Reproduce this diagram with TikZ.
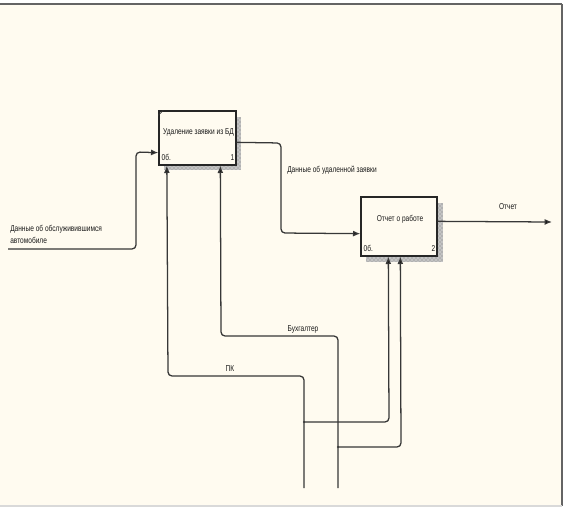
\documentclass[tikz,border=0pt]{standalone}
\usepackage{fontspec}
\setmainfont{Liberation Sans}
\newfontfamily\narrowfont[FakeStretch=0.77]{Liberation Sans}
\usetikzlibrary{arrows.meta,calc,patterns}
\definecolor{cream}{RGB}{255,251,240}
\definecolor{linegray}{RGB}{55,55,55}
\definecolor{framegray}{RGB}{100,100,100}
\tikzset{
  actbox/.style={draw=black!85, line width=1pt, fill=cream, inner sep=0pt},
  flow/.style={draw=linegray, line width=0.95pt, rounded corners=3pt},
  arr/.style={-{Latex[length=5.5pt,width=4.5pt,fill=black]}},
  lbl/.style={font=\narrowfont\fontsize{6.4}{9}\selectfont, text=black!90, inner sep=0pt},
  jdot/.style={circle, fill=linegray, inner sep=0pt, minimum size=1.6pt}
}
\begin{document}
\begin{tikzpicture}[x=0.75pt,y=-0.75pt]
\useasboundingbox (0,0) rectangle (565,508);
% background and frame
\fill[white] (0,0) rectangle (565,508);
\fill[cream] (0,4) rectangle (562,506);
\draw[framegray, line width=1.1pt] (0,4) -- (562,4);
\draw[framegray, line width=0.8pt] (562,4) -- (562,506);
\draw[black!15, line width=0.8pt] (0,506) -- (562,506);

% shadows
\foreach \r in {{(236,117) rectangle (241,170)}, {(164,165) rectangle (241,170)},
                {(437,203) rectangle (443,262)}, {(366,256) rectangle (443,262)}}{
  \fill[gray!60] \r;
  \fill[pattern=crosshatch dots, pattern color=white] \r;
}

% boxes
\node[actbox, minimum width=57.75pt, minimum height=40.5pt] (b1) at (197.5,138) {};
\node[actbox, minimum width=57pt, minimum height=44.25pt] (b2) at (399,226.5) {};
\draw[black!80, line width=0.6pt] ($(b1.north west)+(0,5)$) -- ($(b1.north west)+(5,0)$);

% box texts
\node[lbl] (t1) at (198.5,132) {Удаление заявки из БД};
\node[lbl] (t2) at (400,219) {Отчет о работе};
\node[lbl, anchor=base west] (c1) at ($(b1.south west)+(3,-5)$) {0б.};
\node[lbl, anchor=base east] (n1) at ($(b1.south east)+(-2,-5)$) {1};
\node[lbl, anchor=base west] (c2) at ($(b2.south west)+(3,-5)$) {0б.};
\node[lbl, anchor=base east] (n2) at ($(b2.south east)+(-2,-5)$) {2};

% free ends
\coordinate (in1) at (8,249);
\coordinate (out2) at (552,222);
\coordinate (m1) at (304,488);
\coordinate (m2) at (338,488);

% input
\draw[flow, arr] (in1) -- (136,249) -- (136,152) -- ($(b1.south west)+(0,-13)$);
\node[lbl, anchor=west, align=left] (l1) at (10,234) {Данные об обслуживившимся\\автомобиле};

% output 1 -> box 2
\draw[flow, arr] ($(b1.north east)+(0,32)$) -- (281,143) -- (281,233) -- ($(b2.south west)+(0,-23)$);
\node[lbl, anchor=west] (l2) at (287,170) {Данные об удаленной заявки};

% output 2
\draw[flow, arr] ($(b2.north east)+(0,25)$) -- (out2);
\node[lbl] (l3) at (508,207) {Отчет};

% mechanism PK
\draw[flow, arr] (m1) -- (304,376) -- (168,376) -- ($(b1.south west)+(8.5,0)$);
\draw[flow, arr] (304,422) -- (389,422) -- ($(b2.south west)+(28,0)$);
\node[jdot] (j1) at (304,422) {};
\node[lbl] (l4) at (230,369) {ПК};

% mechanism Бухгалтер
\draw[flow, arr] (m2) -- (338,336) -- (221,336) -- ($(b1.south west)+(62,0)$);
\draw[flow, arr] (338,447) -- (401,447) -- ($(b2.south west)+(40,0)$);
\node[jdot] (j2) at (338,447) {};
\node[lbl] (l5) at (303,329) {Бухгалтер};
\end{tikzpicture}
\end{document}
